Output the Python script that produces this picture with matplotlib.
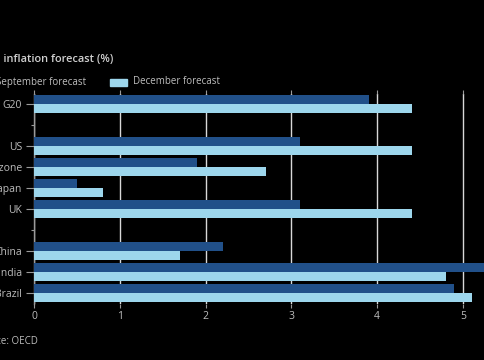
import matplotlib

matplotlib.use("Agg")
import matplotlib.pyplot as plt
from matplotlib.patches import Rectangle

# Rows from top to bottom; empty strings are spacer rows between groups
countries = ["G20", "", "US", "Eurozone", "Japan", "UK", "", "China", "India", "Brazil"]
september = [3.9, None, 3.1, 1.9, 0.5, 3.1, None, 2.2, 5.6, 4.9]
december = [4.4, None, 4.4, 2.7, 0.8, 4.4, None, 1.7, 4.8, 5.1]
x_ticks = [0, 1, 2, 3, 4, 5]

TITLE = "2022 inflation forecast (%)"
SOURCE = "Source: OECD"
SEPT_LABEL = "September forecast"
DEC_LABEL = "December forecast"

BG = "#000000"
DARK = "#215089"
LIGHT = "#9dd6ec"
TEXT = "#bdbdbd"
GRID = "#d8d8d8"

plt.rcParams["font.family"] = ["Open Sans", "DejaVu Sans"]

W, H = 485, 360
fig = plt.figure(figsize=(W / 100, H / 100), dpi=100, facecolor=BG)
ax = fig.add_axes([34 / W, 1 - 303.5 / H, 1 - 34 / W, 210 / H], facecolor=BG)

bar_h = 0.45
for i, (s, d) in enumerate(zip(september, december)):
    if s is not None:
        ax.barh(i - bar_h / 2, s, height=bar_h, color=DARK, zorder=3)
    if d is not None:
        ax.barh(i + bar_h / 2, d, height=bar_h, color=LIGHT, zorder=3)

ax.set_xlim(0, 451 / 85.8)
ax.set_ylim(len(countries) - 0.5, -0.5)
ax.set_xticks(x_ticks)
ax.set_yticks(range(len(countries)))
ax.set_yticklabels(countries)

ax.grid(axis="x", color=GRID, linewidth=1, zorder=0)
for side in ["top", "right", "bottom"]:
    ax.spines[side].set_visible(False)
ax.spines["left"].set_color("#9a9a9a")
ax.spines["left"].set_linewidth(1)

ax.tick_params(axis="y", colors="#9a9a9a", labelcolor=TEXT, labelsize=7.5, length=6, pad=2.5)
ax.tick_params(axis="x", colors="#9a9a9a", labelcolor=TEXT, labelsize=7.5, length=3,
               pad=2.5, top=True)
# spacer rows only get a short tick
for tick, name in zip(ax.yaxis.get_major_ticks(), countries):
    if not name:
        tick.tick1line.set_markersize(2.5)

# title, legend and source (left edge falls outside the crop)
fig.text(113 / W, 1 - 60 / H, TITLE, ha="right", va="center", color="#d0d0d0",
         fontsize=7.9, fontweight="semibold")
fig.text(86 / W, 1 - 82 / H, SEPT_LABEL, ha="right", va="center", color=TEXT, fontsize=7)
fig.patches.append(Rectangle((-28 / W, 1 - 86 / H), 17 / W, 7 / H, color=DARK,
                             transform=fig.transFigure, figure=fig))
fig.patches.append(Rectangle((110 / W, 1 - 86 / H), 17 / W, 7 / H, color=LIGHT,
                             transform=fig.transFigure, figure=fig))
fig.text(133 / W, 1 - 82 / H, DEC_LABEL, ha="left", va="center", color=TEXT, fontsize=7)
fig.text(38 / W, 1 - 342 / H, SOURCE, ha="right", va="center", color=TEXT, fontsize=7)

fig.savefig("out.png", dpi=100, facecolor=BG)
